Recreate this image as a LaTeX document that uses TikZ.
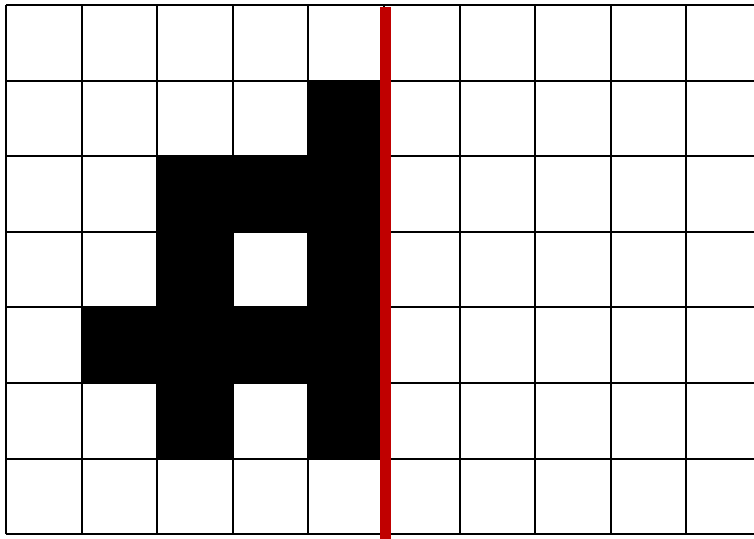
\documentclass[tikz,border=0pt]{standalone}
\usepackage{tikz}
\definecolor{cutred}{RGB}{192,0,0}

\begin{document}
\begin{tikzpicture}[x=1cm, y=1cm, cell/.style={fill=black}, grid line/.style={line width=0.75pt}, cut/.style={draw=cutred, line width=4.1pt}]
	\useasboundingbox (-0.079,-0.053) rectangle (9.894,7.066);
	% filled cells
	\foreach \x/\y in {4/5, 2/4, 3/4, 4/4, 2/3, 4/3, 1/2, 2/2, 3/2, 4/2, 2/1, 4/1}
		\fill[cell] (\x,\y) rectangle ++(1,1);
	\draw[grid line] (0,0) grid (10,7);
	% cutting line
	\coordinate (cut top) at (5.02,6.97);
	\coordinate (cut bottom) at (5.02,-0.1);
	\draw[cut] (cut top) -- (cut bottom);
\end{tikzpicture}
\end{document}
